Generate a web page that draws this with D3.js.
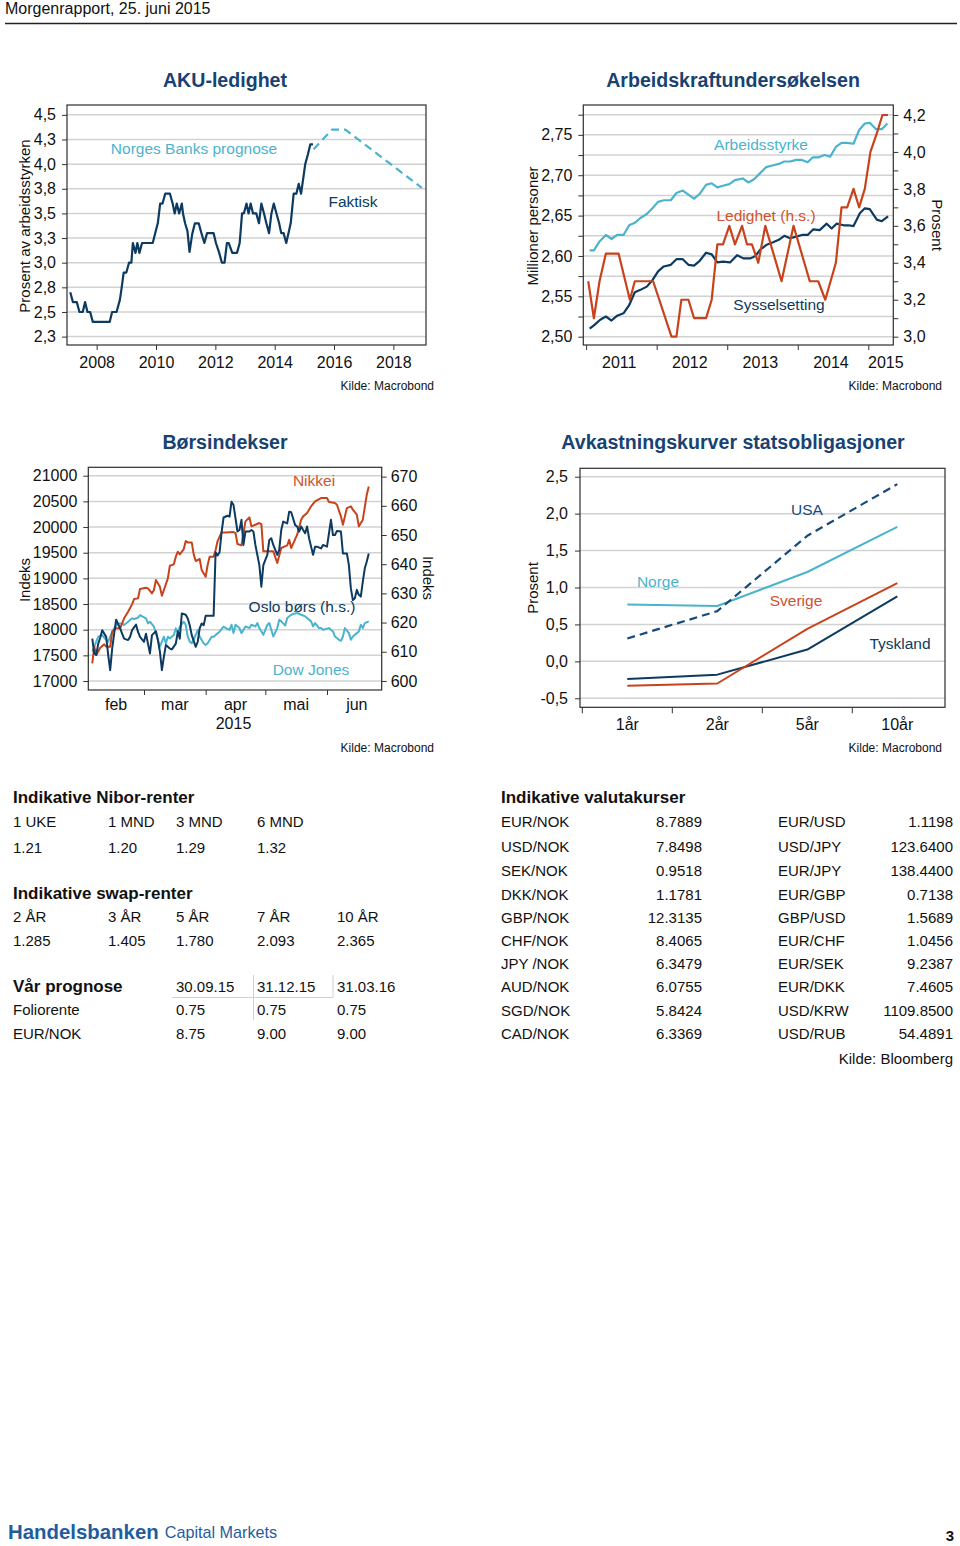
<!DOCTYPE html>
<html>
<head>
<meta charset="utf-8">
<script src="https://cdn.jsdelivr.net/npm/d3@7"></script>
<style>
  body { margin: 0; background: #fff; }
  svg { display: block; }
</style>
</head>
<body>
<svg id="page" width="960" height="1546"></svg>
<script>
// ===================== DATA =====================
// Chart 1: AKU-ledighet (percent of labour force)
const akuFaktisk = [[2007.11,2.70],[2007.20,2.60],[2007.33,2.60],[2007.42,2.50],[2007.53,2.50],[2007.61,2.60],[2007.69,2.50],[2007.78,2.50],[2007.87,2.40],[2008.44,2.40],[2008.52,2.50],[2008.67,2.50],[2008.78,2.62],[2008.83,2.72],[2008.91,2.90],[2009.00,2.90],[2009.09,3.00],[2009.17,3.00],[2009.22,3.20],[2009.31,3.10],[2009.37,3.20],[2009.44,3.10],[2009.53,3.20],[2009.89,3.20],[2009.94,3.26],[2010.06,3.40],[2010.14,3.60],[2010.22,3.60],[2010.31,3.70],[2010.47,3.70],[2010.56,3.60],[2010.63,3.50],[2010.70,3.60],[2010.78,3.50],[2010.87,3.60],[2010.91,3.50],[2010.98,3.40],[2011.06,3.32],[2011.13,3.11],[2011.22,3.29],[2011.31,3.40],[2011.44,3.40],[2011.53,3.30],[2011.63,3.20],[2011.72,3.30],[2011.94,3.30],[2012.02,3.20],[2012.13,3.10],[2012.22,3.00],[2012.31,3.00],[2012.39,3.20],[2012.45,3.20],[2012.57,3.10],[2012.73,3.10],[2012.82,3.20],[2012.90,3.50],[2012.96,3.50],[2013.05,3.60],[2013.12,3.50],[2013.19,3.60],[2013.27,3.50],[2013.38,3.50],[2013.47,3.40],[2013.55,3.60],[2013.64,3.50],[2013.72,3.40],[2013.81,3.30],[2013.89,3.50],[2013.97,3.60],[2014.06,3.50],[2014.15,3.40],[2014.22,3.30],[2014.30,3.30],[2014.39,3.20],[2014.54,3.40],[2014.64,3.70],[2014.73,3.70],[2014.81,3.80],[2014.89,3.70],[2015.03,4.00],[2015.12,4.10],[2015.20,4.20],[2015.29,4.20]];
const akuPrognose = [[2015.31,4.15],[2015.93,4.35],[2016.38,4.35],[2018.96,3.76]];
const akuYTicks = [2.25,2.5,2.75,3.0,3.25,3.5,3.75,4.0,4.25,4.5];
const akuYLabels = ["2,3","2,5","2,8","3,0","3,3","3,5","3,8","4,0","4,3","4,5"];
const akuXTicks = [2008,2010,2012,2014,2016,2018];

// Chart 2: Arbeidskraftundersøkelsen
const arbeidsstyrke = [[2011.05,2.607],[2011.11,2.607],[2011.19,2.618],[2011.28,2.626],[2011.36,2.621],[2011.44,2.626],[2011.53,2.626],[2011.61,2.638],[2011.69,2.641],[2011.77,2.647],[2011.86,2.652],[2011.94,2.659],[2012.02,2.667],[2012.10,2.669],[2012.20,2.669],[2012.28,2.678],[2012.37,2.681],[2012.45,2.676],[2012.53,2.671],[2012.61,2.677],[2012.70,2.688],[2012.78,2.690],[2012.86,2.685],[2012.94,2.687],[2013.03,2.689],[2013.11,2.694],[2013.22,2.696],[2013.30,2.691],[2013.38,2.695],[2013.46,2.702],[2013.55,2.710],[2013.64,2.712],[2013.73,2.714],[2013.81,2.717],[2013.89,2.717],[2013.98,2.719],[2014.06,2.719],[2014.14,2.716],[2014.21,2.722],[2014.29,2.722],[2014.38,2.725],[2014.46,2.723],[2014.54,2.735],[2014.62,2.740],[2014.70,2.740],[2014.79,2.739],[2014.87,2.756],[2014.95,2.764],[2015.02,2.765],[2015.11,2.757],[2015.19,2.757],[2015.27,2.764]];
const sysselsetting = [[2011.05,2.510],[2011.11,2.514],[2011.20,2.521],[2011.28,2.525],[2011.36,2.520],[2011.44,2.526],[2011.53,2.529],[2011.61,2.539],[2011.69,2.555],[2011.77,2.558],[2011.86,2.562],[2011.94,2.570],[2012.02,2.581],[2012.10,2.587],[2012.20,2.589],[2012.28,2.596],[2012.37,2.596],[2012.45,2.589],[2012.53,2.588],[2012.61,2.594],[2012.70,2.604],[2012.78,2.602],[2012.86,2.592],[2012.94,2.593],[2013.04,2.592],[2013.14,2.601],[2013.23,2.597],[2013.33,2.597],[2013.40,2.600],[2013.47,2.608],[2013.56,2.614],[2013.65,2.617],[2013.73,2.620],[2013.81,2.625],[2013.89,2.622],[2013.98,2.624],[2014.06,2.626],[2014.14,2.626],[2014.22,2.633],[2014.31,2.632],[2014.41,2.640],[2014.48,2.634],[2014.55,2.640],[2014.65,2.638],[2014.72,2.638],[2014.79,2.637],[2014.88,2.653],[2014.95,2.659],[2015.02,2.658],[2015.12,2.645],[2015.19,2.643],[2015.28,2.649]];
const ledighet = [[2011.03,3.30],[2011.11,3.10],[2011.19,3.30],[2011.28,3.45],[2011.46,3.45],[2011.62,3.20],[2011.69,3.30],[2011.95,3.30],[2012.21,3.00],[2012.28,3.00],[2012.35,3.20],[2012.45,3.20],[2012.53,3.10],[2012.70,3.10],[2012.78,3.20],[2012.86,3.50],[2012.94,3.50],[2013.03,3.60],[2013.11,3.50],[2013.21,3.60],[2013.28,3.50],[2013.35,3.50],[2013.44,3.40],[2013.54,3.60],[2013.77,3.30],[2013.94,3.60],[2014.17,3.30],[2014.29,3.30],[2014.39,3.20],[2014.54,3.40],[2014.62,3.70],[2014.70,3.70],[2014.79,3.80],[2014.87,3.70],[2014.95,3.80],[2015.03,4.00],[2015.12,4.10],[2015.20,4.20],[2015.28,4.20]];
const arbLeftTicks = [2.5,2.525,2.55,2.575,2.6,2.625,2.65,2.675,2.7,2.725,2.75,2.775];
const arbLeftLabels = ["2,50","","2,55","","2,60","","2,65","","2,70","","2,75",""];
const arbRightTicks = [3.0,3.1,3.2,3.3,3.4,3.5,3.6,3.7,3.8,3.9,4.0,4.1,4.2];
const arbRightLabels = ["3,0","","3,2","","3,4","","3,6","","3,8","","4,0","","4,2"];
const arbXTicks = [2011,2012,2013,2014,2015];

// Chart 3: Børsindekser (2015)
const nikkei = [["02-03",17344],["02-04",17669],["02-05",17506],["02-07",17649],["02-09",17714],["02-10",17669],["02-12",17669],["02-13",17961],["02-15",18026],["02-17",18026],["02-18",18123],["02-19",18221],["02-21",18350],["02-23",18493],["02-24",18597],["02-26",18610],["02-27",18792],["03-02",18818],["03-03",18805],["03-05",18708],["03-06",18773],["03-07",18967],["03-09",18838],["03-10",18662],["03-11",18773],["03-13",19000],["03-14",19247],["03-16",19273],["03-17",19422],["03-18",19519],["03-19",19467],["03-21",19571],["03-22",19727],["03-23",19701],["03-25",19701],["03-26",19467],["03-27",19338],["03-29",19377],["03-30",19162],["04-01",19032],["04-02",19260],["04-03",19422],["04-05",19422],["04-06",19552],["04-07",19727],["04-09",19896],["04-11",19896],["04-15",19903],["04-16",19883],["04-17",19669],["04-19",19643],["04-21",20110],["04-23",20188],["04-24",20013],["04-26",20045],["04-28",20078],["04-29",20058],["04-30",19526],["05-05",19526],["05-07",19299],["05-09",19591],["05-12",19643],["05-13",19753],["05-14",19591],["05-17",19851],["05-19",20143],["05-20",20208],["05-22",20273],["05-24",20403],["05-26",20500],["05-29",20565],["06-01",20565],["06-02",20487],["06-05",20467],["06-06",20435],["06-08",20208],["06-09",20045],["06-11",20370],["06-13",20403],["06-14",20338],["06-16",20240],["06-17",20013],["06-19",20143],["06-21",20630],["06-22",20792]];
const osloBors = [["02-03",614.5],["02-04",609.4],["02-05",608.9],["02-06",612.8],["02-07",614.8],["02-08",617.4],["02-10",615.1],["02-11",608.9],["02-12",603.7],["02-13",611.1],["02-14",616.2],["02-15",621.0],["02-17",618.0],["02-18",616.2],["02-19",614.5],["02-21",614.0],["02-22",615.1],["02-23",617.4],["02-25",619.3],["02-26",616.8],["02-27",615.1],["03-01",613.4],["03-02",616.2],["03-03",612.8],["03-04",609.4],["03-05",615.7],["03-07",617.0],["03-08",614.0],["03-09",610.0],["03-10",603.7],["03-11",608.3],["03-12",612.3],["03-14",611.1],["03-15",610.8],["03-17",612.8],["03-18",617.0],["03-19",614.5],["03-20",623.1],["03-22",622.7],["03-23",621.4],["03-24",619.1],["03-25",615.7],["03-27",611.7],["03-28",613.4],["03-29",618.0],["03-30",619.7],["03-31",619.1],["04-01",622.3],["04-05",622.3],["04-06",644.1],["04-07",643.0],["04-08",644.1],["04-09",650.9],["04-10",656.0],["04-12",656.6],["04-13",656.3],["04-14",661.4],["04-15",660.3],["04-17",651.2],["04-18",651.7],["04-19",655.2],["04-20",646.6],["04-21",651.2],["04-23",651.2],["04-24",651.7],["04-25",651.2],["04-26",646.6],["04-28",639.7],["04-29",632.3],["04-30",639.7],["05-01",641.5],["05-02",643.2],["05-03",648.3],["05-04",648.9],["05-05",646.6],["05-07",643.2],["05-08",644.9],["05-09",651.7],["05-10",654.6],["05-12",654.0],["05-13",658.0],["05-14",657.8],["05-16",653.4],["05-17",652.9],["05-18",651.2],["05-19",652.9],["05-20",651.7],["05-21",650.6],["05-22",652.9],["05-23",648.9],["05-25",643.2],["05-26",646.0],["05-27",646.0],["05-29",645.4],["05-30",646.6],["06-01",646.0],["06-02",650.6],["06-03",655.2],["06-04",650.0],["06-05",650.0],["06-06",651.4],["06-08",651.2],["06-09",643.7],["06-11",643.7],["06-12",639.7],["06-13",631.7],["06-14",627.7],["06-15",628.3],["06-16",631.2],["06-17",629.5],["06-18",628.9],["06-19",634.0],["06-20",638.6],["06-21",640.9],["06-22",643.7]];
const dowJones = [["02-03",17571],["02-06",17863],["02-08",17896],["02-09",17844],["02-11",17766],["02-13",17961],["02-14",18026],["02-16",18123],["02-18",18123],["02-19",18091],["02-21",18156],["02-23",18221],["02-24",18208],["02-26",18234],["02-27",18286],["03-02",18221],["03-03",18123],["03-04",18156],["03-06",18058],["03-08",17799],["03-09",17669],["03-11",17863],["03-12",17734],["03-13",17863],["03-14",17831],["03-16",17896],["03-17",18026],["03-18",17948],["03-19",18058],["03-21",18156],["03-22",18091],["03-23",17863],["03-24",17766],["03-25",17734],["03-27",17896],["03-28",17993],["03-29",17863],["03-31",17734],["04-01",17701],["04-02",17734],["04-04",17863],["04-05",17863],["04-07",17928],["04-08",17961],["04-10",18058],["04-12",18013],["04-13",17998],["04-14",18096],["04-15",17933],["04-16",18096],["04-18",18031],["04-19",17933],["04-20",17998],["04-21",18064],["04-23",18031],["04-24",18096],["04-26",18064],["04-27",18129],["04-28",18031],["04-30",17901],["05-02",18096],["05-03",18129],["05-04",17998],["05-05",17868],["05-07",18031],["05-08",18194],["05-09",18162],["05-11",18083],["05-12",18227],["05-14",18292],["05-15",18305],["05-17",18325],["05-19",18292],["05-21",18260],["05-22",18227],["05-24",18162],["05-25",18064],["05-26",18129],["05-28",18031],["05-29",18031],["05-30",17998],["06-02",18031],["06-03",17998],["06-04",17966],["06-05",17868],["06-07",17803],["06-08",17783],["06-09",17868],["06-10",18031],["06-12",17933],["06-13",17803],["06-14",17868],["06-16",17933],["06-17",17966],["06-18",18096],["06-19",18031],["06-20",18129],["06-22",18162]];
const borsLeftTicks = [17000,17500,18000,18500,19000,19500,20000,20500,21000];
const borsRightTicks = [600,610,620,630,640,650,660,670];
const borsMonths = ["feb","mar","apr","mai","jun"];
const borsMonthStarts = ["2015-02-01","2015-03-01","2015-04-01","2015-05-01","2015-06-01","2015-07-01"];

// Chart 4: Avkastningskurver statsobligasjoner
const kurveCats = ["1år","2år","5år","10år"];
const norge = [0.77,0.75,1.21,1.82];
const usa = [0.31,0.68,1.70,2.40];
const sverige = [-0.33,-0.30,0.44,1.06];
const tyskland = [-0.24,-0.18,0.16,0.88];
const kurveYTicks = [-0.5,0,0.5,1.0,1.5,2.0,2.5];
const kurveYLabels = ["-0,5","0,0","0,5","1,0","1,5","2,0","2,5"];

// Tables
const niborLabels = ["1 UKE","1 MND","3 MND","6 MND"];
const niborValues = ["1.21","1.20","1.29","1.32"];
const swapLabels = ["2 ÅR","3 ÅR","5 ÅR","7 ÅR","10 ÅR"];
const swapValues = ["1.285","1.405","1.780","2.093","2.365"];
const prognoseDates = ["30.09.15","31.12.15","31.03.16"];
const folioValues = ["0.75","0.75","0.75"];
const eurnokValues = ["8.75","9.00","9.00"];
const fxLeftNames = ["EUR/NOK","USD/NOK","SEK/NOK","DKK/NOK","GBP/NOK","CHF/NOK","JPY /NOK","AUD/NOK","SGD/NOK","CAD/NOK"];
const fxLeftValues = ["8.7889","7.8498","0.9518","1.1781","12.3135","8.4065","6.3479","6.0755","5.8424","6.3369"];
const fxRightNames = ["EUR/USD","USD/JPY","EUR/JPY","EUR/GBP","GBP/USD","EUR/CHF","EUR/SEK","EUR/DKK","USD/KRW","USD/RUB"];
const fxRightValues = ["1.1198","123.6400","138.4400","0.7138","1.5689","1.0456","9.2387","7.4605","1109.8500","54.4891"];

// ===================== STYLE =====================
const FONT = '"Liberation Sans", Arial, Helvetica, sans-serif';
const NAVY = "#0c3a60", LIGHT = "#4cb3cd", ORANGE = "#c8431c", TITLE = "#174272";
const GRID = "#d2d2d2", FRAME = "#2e2e2e", TXT = "#111";

const svg = d3.select("#page").attr("font-family", FONT);
svg.append("rect").attr("width", 960).attr("height", 1546).attr("fill", "#fff");

function label(g, x, y, s, o = {}) {
  const t = g.append("text").attr("x", x).attr("y", y)
    .attr("dominant-baseline", "central")
    .attr("font-size", o.size || 15)
    .attr("fill", o.fill || TXT)
    .attr("text-anchor", o.anchor || "start")
    .attr("font-weight", o.weight || "normal")
    .text(s);
  if (o.rotate) t.attr("transform", `rotate(${o.rotate},${x},${y})`);
  return t;
}
function styleAxis(g, size) {
  g.attr("font-family", FONT).attr("font-size", size || 16);
  g.select(".domain").remove();
  g.selectAll(".tick line").attr("stroke", "#333").attr("stroke-width", 1);
  g.selectAll(".tick text").attr("fill", TXT);
}
function grid(g, vals, y, x0, x1) {
  g.selectAll(null).data(vals).enter().append("line")
    .attr("x1", x0).attr("x2", x1)
    .attr("y1", d => y(d)).attr("y2", d => y(d))
    .attr("stroke", GRID).attr("stroke-width", 1.5);
}
function frame(g, b) {
  g.append("rect").attr("x", b.l).attr("y", b.t).attr("width", b.r - b.l).attr("height", b.b - b.t)
    .attr("fill", "none").attr("stroke", FRAME).attr("stroke-width", 1.2);
}
function path(g, data, gen, color, dash, w) {
  g.append("path").datum(data).attr("d", gen).attr("fill", "none")
    .attr("stroke", color).attr("stroke-width", w || 2.2)
    .attr("stroke-linejoin", "round").attr("stroke-linecap", "butt")
    .attr("stroke-dasharray", dash || null);
}

// ===================== HEADER / FOOTER =====================
label(svg, 5, 8.5, "Morgenrapport, 25. juni 2015", { size: 16 });
svg.append("line").attr("x1", 5).attr("x2", 957).attr("y1", 23.5).attr("y2", 23.5)
  .attr("stroke", "#222").attr("stroke-width", 1.3);
const foot = svg.append("text").attr("x", 8).attr("y", 1532).attr("dominant-baseline", "central").attr("fill", "#1f5d9e");
foot.append("tspan").attr("font-size", 20.4).attr("font-weight", "bold").text("Handelsbanken");
foot.append("tspan").attr("font-size", 16.2).attr("dx", 6).text("Capital Markets");
label(svg, 954, 1535, "3", { size: 15, weight: "bold", anchor: "end" });

// ===================== CHART 1 =====================
{
  const g = svg.append("g");
  const b = { l: 67, r: 426, t: 105, b: 345 };
  const x = d3.scaleLinear().domain([2007.0, 2019.1]).range([b.l, b.r]);
  const y = d3.scaleLinear().domain([2.165, 4.6]).range([b.b, b.t]);
  grid(g, akuYTicks, y, b.l, b.r);
  const ay = g.append("g").attr("transform", `translate(${b.l},0)`)
    .call(d3.axisLeft(y).tickValues(akuYTicks).tickSize(5).tickPadding(6).tickFormat((d, i) => akuYLabels[i]));
  styleAxis(ay, 16);
  const ax = g.append("g").attr("transform", `translate(0,${b.b})`)
    .call(d3.axisBottom(x).tickValues(akuXTicks).tickSize(5).tickFormat(d3.format("d")));
  styleAxis(ax, 16);
  ax.selectAll(".tick text").attr("dy", null).attr("y", 17).attr("dominant-baseline", "central");
  const line = d3.line().x(d => x(d[0])).y(d => y(d[1]));
  path(g, akuPrognose, line, LIGHT, "8,5", 2.2);
  path(g, akuFaktisk, line, NAVY, null, 2.2);
  frame(g, b);
  label(g, 225, 80, "AKU-ledighet", { size: 19.6, weight: "bold", fill: TITLE, anchor: "middle" });
  label(g, 24, 226, "Prosent av arbeidsstyrken", { size: 15, anchor: "middle", rotate: -90 });
  label(g, 194, 148, "Norges Banks prognose", { size: 15.5, fill: LIGHT, anchor: "middle" });
  label(g, 353, 201, "Faktisk", { size: 15.5, fill: NAVY, anchor: "middle" });
  label(g, 434, 386, "Kilde: Macrobond", { size: 12, anchor: "end" });
}

// ===================== CHART 2 =====================
{
  const g = svg.append("g");
  const b = { l: 583.3, r: 893.3, t: 105, b: 345 };
  const x = d3.scaleLinear().domain([2010.96, 2015.354]).range([b.l, b.r]);
  const yL = d3.scaleLinear().domain([2.4897, 2.787]).range([b.b, b.t]);
  const yR = d3.scaleLinear().domain([2.955, 4.254]).range([b.b, b.t]);
  grid(g, arbLeftTicks, yL, b.l, b.r);
  const al = g.append("g").attr("transform", `translate(${b.l},0)`)
    .call(d3.axisLeft(yL).tickValues(arbLeftTicks).tickSize(5).tickPadding(6).tickFormat((d, i) => arbLeftLabels[i]));
  styleAxis(al, 16);
  const ar = g.append("g").attr("transform", `translate(${b.r},0)`)
    .call(d3.axisRight(yR).tickValues(arbRightTicks).tickSize(5).tickPadding(5).tickFormat((d, i) => arbRightLabels[i]));
  styleAxis(ar, 16);
  const ax = g.append("g").attr("transform", `translate(0,${b.b})`)
    .call(d3.axisBottom(x).tickValues(arbXTicks).tickSize(5).tickFormat(""));
  styleAxis(ax, 16);
  arbXTicks.forEach(yr => {
    const px = Math.min(x(yr + 0.47), b.r - 7.5);
    label(g, px, 362, String(yr), { size: 16, anchor: "middle" });
  });
  const lineL = d3.line().x(d => x(d[0])).y(d => yL(d[1]));
  const lineR = d3.line().x(d => x(d[0])).y(d => yR(d[1]));
  path(g, arbeidsstyrke, lineL, LIGHT);
  path(g, sysselsetting, lineL, NAVY);
  path(g, ledighet, lineR, ORANGE);
  frame(g, b);
  label(g, 733, 80, "Arbeidskraftundersøkelsen", { size: 19.6, weight: "bold", fill: TITLE, anchor: "middle" });
  label(g, 532, 226, "Millioner personer", { size: 15, anchor: "middle", rotate: -90 });
  label(g, 937, 225, "Prosent", { size: 15, anchor: "middle", rotate: 90 });
  label(g, 761, 144, "Arbeidsstyrke", { size: 15.5, fill: LIGHT, anchor: "middle" });
  label(g, 766, 215, "Ledighet (h.s.)", { size: 15.5, fill: "#d0522c", anchor: "middle" });
  label(g, 779, 304, "Sysselsetting", { size: 15.5, fill: NAVY, anchor: "middle" });
  label(g, 942, 386, "Kilde: Macrobond", { size: 12, anchor: "end" });
}

// ===================== CHART 3 =====================
{
  const g = svg.append("g");
  const b = { l: 88.3, r: 381.7, t: 467.3, b: 690 };
  const parse = d3.timeParse("%Y-%m-%d");
  const x = d3.scaleTime().domain([parse("2015-02-01"), new Date(2015, 5, 28, 12)]).range([b.l, b.r]);
  const yL = d3.scaleLinear().domain([16825, 21164]).range([b.b, b.t]);
  const yR = d3.scaleLinear().domain([596.9, 673.2]).range([b.b, b.t]);
  grid(g, borsLeftTicks, yL, b.l, b.r);
  const al = g.append("g").attr("transform", `translate(${b.l},0)`)
    .call(d3.axisLeft(yL).tickValues(borsLeftTicks).tickSize(5).tickPadding(6).tickFormat(d3.format("d")));
  styleAxis(al, 16);
  const ar = g.append("g").attr("transform", `translate(${b.r},0)`)
    .call(d3.axisRight(yR).tickValues(borsRightTicks).tickSize(5).tickPadding(4).tickFormat(d3.format("d")));
  styleAxis(ar, 16);
  const starts = borsMonthStarts.map(parse);
  const ax = g.append("g").attr("transform", `translate(0,${b.b})`)
    .call(d3.axisBottom(x).tickValues(starts.slice(1, 5)).tickSize(5).tickFormat(""));
  styleAxis(ax, 16);
  borsMonths.forEach((m, i) => {
    const mid = new Date((starts[i].getTime() + starts[i + 1].getTime()) / 2);
    label(g, x(mid), 704, m, { size: 16, anchor: "middle" });
    if (m === "apr") label(g, x(mid) - 2, 723, "2015", { size: 16, anchor: "middle" });
  });
  const toD = d => parse("2015-" + d[0]);
  const lineL = d3.line().x(d => x(toD(d))).y(d => yL(d[1]));
  const lineR = d3.line().x(d => x(toD(d))).y(d => yR(d[1]));
  path(g, dowJones, lineL, LIGHT, null, 2);
  path(g, nikkei, lineL, ORANGE, null, 2);
  path(g, osloBors, lineR, NAVY, null, 2);
  frame(g, b);
  label(g, 225, 442, "Børsindekser", { size: 19.6, weight: "bold", fill: TITLE, anchor: "middle" });
  label(g, 24, 580, "Indeks", { size: 15, anchor: "middle", rotate: -90 });
  label(g, 428, 578, "Indeks", { size: 15, anchor: "middle", rotate: 90 });
  label(g, 314, 480, "Nikkei", { size: 15.5, fill: "#d0522c", anchor: "middle" });
  label(g, 302, 606, "Oslo børs (h.s.)", { size: 15.5, fill: NAVY, anchor: "middle" });
  label(g, 311, 669, "Dow Jones", { size: 15.5, fill: LIGHT, anchor: "middle" });
  label(g, 434, 748, "Kilde: Macrobond", { size: 12, anchor: "end" });
}

// ===================== CHART 4 =====================
{
  const g = svg.append("g");
  const b = { l: 580, r: 945, t: 468.3, b: 707.3 };
  const x = d3.scaleBand().domain(kurveCats).range([582.3, 942.3]).paddingInner(0).paddingOuter(0);
  const y = d3.scaleLinear().domain([-0.622, 2.614]).range([b.b, b.t]);
  grid(g, kurveYTicks, y, b.l, b.r);
  const al = g.append("g").attr("transform", `translate(${b.l},0)`)
    .call(d3.axisLeft(y).tickValues(kurveYTicks).tickSize(5).tickPadding(7).tickFormat((d, i) => kurveYLabels[i]));
  styleAxis(al, 16);
  const ax = g.append("g").attr("transform", `translate(0,${b.b})`)
    .call(d3.axisBottom(x).tickSize(0).tickPadding(0));
  styleAxis(ax, 16);
  ax.selectAll(".tick text").attr("dy", null).attr("y", 17).attr("dominant-baseline", "central");
  g.selectAll(null).data(kurveCats).enter().append("line")
    .attr("x1", d => x(d)).attr("x2", d => x(d))
    .attr("y1", b.b).attr("y2", b.b + 6).attr("stroke", "#333");
  const cx = c => x(c) + x.bandwidth() / 2;
  const line = d3.line().x((d, i) => cx(kurveCats[i])).y(d => y(d));
  path(g, norge, line, LIGHT, null, 2);
  path(g, tyskland, line, NAVY, null, 2);
  path(g, sverige, line, ORANGE, null, 2);
  path(g, usa, line, "#174a7a", "8,5", 2.2);
  frame(g, b);
  label(g, 733, 442, "Avkastningskurver statsobligasjoner", { size: 19.6, weight: "bold", fill: TITLE, anchor: "middle" });
  label(g, 532, 588, "Prosent", { size: 15, anchor: "middle", rotate: -90 });
  label(g, 807, 509, "USA", { size: 15.5, fill: "#174a7a", anchor: "middle" });
  label(g, 658, 581, "Norge", { size: 15.5, fill: LIGHT, anchor: "middle" });
  label(g, 796, 600, "Sverige", { size: 15.5, fill: "#d0522c", anchor: "middle" });
  label(g, 900, 643, "Tyskland", { size: 15.5, fill: NAVY, anchor: "middle" });
  label(g, 942, 748, "Kilde: Macrobond", { size: 12, anchor: "end" });
}

// ===================== TABLES =====================
{
  const g = svg.append("g");
  const cols = [13, 108, 176, 257, 337];
  label(g, 13, 797, "Indikative Nibor-renter", { size: 17, weight: "bold" });
  niborLabels.forEach((s, i) => label(g, cols[i], 821, s, { size: 15 }));
  niborValues.forEach((s, i) => label(g, cols[i], 847, s, { size: 15 }));
  label(g, 13, 893, "Indikative swap-renter", { size: 17, weight: "bold" });
  swapLabels.forEach((s, i) => label(g, cols[i], 916, s, { size: 15 }));
  swapValues.forEach((s, i) => label(g, cols[i], 940, s, { size: 15 }));
  label(g, 13, 986, "Vår prognose", { size: 17, weight: "bold" });
  prognoseDates.forEach((s, i) => label(g, cols[i + 2], 986, s, { size: 15 }));
  label(g, 13, 1009, "Foliorente", { size: 15 });
  folioValues.forEach((s, i) => label(g, cols[i + 2], 1009, s, { size: 15 }));
  label(g, 13, 1033, "EUR/NOK", { size: 15 });
  eurnokValues.forEach((s, i) => label(g, cols[i + 2], 1033, s, { size: 15 }));
  const sep = "#c9d2dd";
  g.append("line").attr("x1", 172).attr("x2", 333).attr("y1", 997.5).attr("y2", 997.5).attr("stroke", sep).attr("stroke-width", 1);
  g.append("line").attr("x1", 253.5).attr("x2", 253.5).attr("y1", 975).attr("y2", 1020).attr("stroke", sep).attr("stroke-width", 1);
  g.append("line").attr("x1", 333).attr("x2", 333).attr("y1", 975).attr("y2", 997.5).attr("stroke", sep).attr("stroke-width", 1);

  const rowsY = [821, 846.7, 870.5, 894, 917, 940, 963.3, 986.7, 1010, 1033.3];
  label(g, 501, 797, "Indikative valutakurser", { size: 17, weight: "bold" });
  fxLeftNames.forEach((s, i) => label(g, 501, rowsY[i], s, { size: 15 }));
  fxLeftValues.forEach((s, i) => label(g, 702, rowsY[i], s, { size: 15, anchor: "end" }));
  fxRightNames.forEach((s, i) => label(g, 778, rowsY[i], s, { size: 15 }));
  fxRightValues.forEach((s, i) => label(g, 953, rowsY[i], s, { size: 15, anchor: "end" }));
  label(g, 953, 1058, "Kilde: Bloomberg", { size: 15, anchor: "end" });
}
</script>
</body>
</html>
